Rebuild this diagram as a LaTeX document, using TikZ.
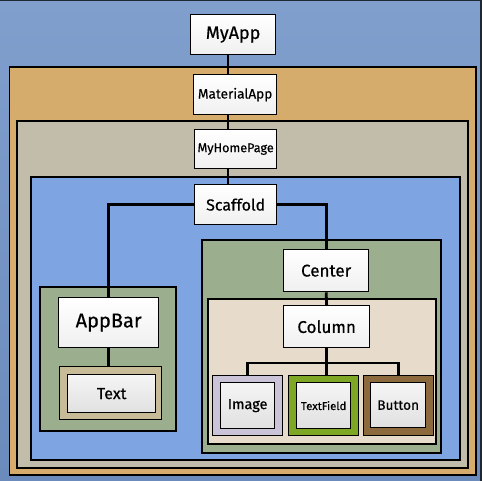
\documentclass[tikz,border=0pt]{standalone}
\usepackage{fontspec}
\setmainfont{Fira Sans}[FakeBold=0.5]
\begin{document}
\begin{tikzpicture}[x=1pt,y=-1pt,
  wbox/.style={draw=black, line width=1.3pt, top color=white, bottom color=black!6, inner sep=0pt, anchor=north west},
  gbox/.style={draw=black, line width=1.3pt, top color=black!4, bottom color=black!12, inner sep=0pt, anchor=north west},
  cont/.style={draw=black, line width=1.3pt},
  conn/.style={line width=2.8pt, black}]
\definecolor{bgtop}{HTML}{809FCD}
\definecolor{bgbot}{HTML}{6B8BBC}
\definecolor{orng}{HTML}{D5AC6B}
\definecolor{grayb}{HTML}{C2BCAA}
\definecolor{innerblue}{HTML}{7EA5E2}
\definecolor{sage}{HTML}{9BAF8E}
\definecolor{beige}{HTML}{E7DBCB}
\definecolor{lav}{HTML}{CBC3D8}
\definecolor{lime}{HTML}{7FA726}
\definecolor{brwn}{HTML}{8D6A3D}
\definecolor{tan}{HTML}{C7BB98}
\definecolor{frame}{HTML}{1E2833}
\useasboundingbox (0,0) rectangle (482,481);
\shade[top color=bgtop, bottom color=bgbot] (0,0) rectangle (482,481);
\draw[frame, line width=2pt] (0,0) -- (482,0);
\draw[frame, line width=1.5pt] (481,0) -- (481,481);
% containers
\draw[cont, fill=orng] (9.5,67) rectangle (476,475);
\draw[cont, fill=grayb] (17,121) rectangle (468,468);
\draw[cont, fill=innerblue] (31,177) rectangle (460,460);
\draw[cont, fill=sage] (40,287) rectangle (176,431);
\draw[cont, fill=sage] (202,240) rectangle (441,453);
\draw[cont, fill=beige] (208,299) rectangle (436,444);
% nested outer boxes
\node[cont, fill=tan, minimum width=102pt, minimum height=53pt, inner sep=0pt, anchor=north west] (texto) at (59,366) {};
\node[cont, fill=lav, minimum width=70pt, minimum height=60pt, inner sep=0pt, anchor=north west] (imgo) at (212,375) {};
\node[cont, fill=lime, minimum width=70pt, minimum height=60pt, inner sep=0pt, anchor=north west] (tfo) at (288,375) {};
\node[cont, fill=brwn, minimum width=70pt, minimum height=60pt, inner sep=0pt, anchor=north west] (btno) at (363,375) {};
% nodes
\coordinate (spine) at (228,0);
\coordinate (bus) at (0,363);
\node[wbox, minimum width=85pt, minimum height=40pt, font=\fontsize{18}{18}\selectfont] (myapp) at (190,14) {MyApp};
\node[wbox, minimum width=83pt, minimum height=40pt, font=\fontsize{13.6}{13.6}\selectfont] (matapp) at (193,74) {MaterialApp};
\node[wbox, minimum width=82pt, minimum height=39pt, font=\fontsize{12.6}{12.6}\selectfont] (home) at (194,129) {MyHomePage};
\node[wbox, minimum width=82pt, minimum height=40pt, font=\fontsize{16}{16}\selectfont] (scaffold) at (194,184) {Scaffold};
\node[wbox, minimum width=100pt, minimum height=50pt, font=\fontsize{20}{20}\selectfont] (appbar) at (58,297) {AppBar};
\node[gbox, minimum width=88pt, minimum height=38pt, font=\fontsize{16}{16}\selectfont] (text) at (67,374) {Text};
\node[wbox, minimum width=85pt, minimum height=42pt, font=\fontsize{17}{17}\selectfont] (center) at (283,249) {Center};
\node[wbox, minimum width=86pt, minimum height=42pt, font=\fontsize{17}{17}\selectfont] (column) at (283,305) {Column};
\node[gbox, minimum width=54pt, minimum height=46pt, font=\fontsize{14.5}{14.5}\selectfont] (image) at (220,382) {Image};
\node[gbox, minimum width=54pt, minimum height=46pt, font=\fontsize{11.3}{11.3}\selectfont] (tfield) at (296,382) {TextField};
\node[gbox, minimum width=55pt, minimum height=45pt, font=\fontsize{13.6}{13.6}\selectfont] (button) at (370,382) {Button};
% connectors
\draw[conn] (myapp.south -| spine) -- (matapp.north -| spine);
\draw[conn] (matapp.south -| spine) -- (home.north -| spine);
\draw[conn] (home.south -| spine) -- (scaffold.north -| spine);
\draw[conn] (scaffold.west) -| (appbar.north);
\draw[conn] (scaffold.east) -| (center.north);
\draw[conn] (appbar.south) -- (appbar.south |- texto.north);
\draw[conn] (center.south) -- (column.north);
\draw[conn] (column.south) -- (column.south |- tfo.north);
\draw[conn] (imgo.north) -- (imgo.north |- bus) -- (btno.north |- bus) -- (btno.north);
\end{tikzpicture}
\end{document}
